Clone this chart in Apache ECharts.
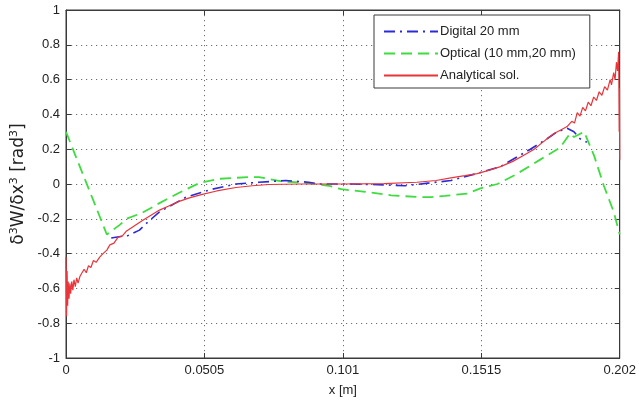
<!DOCTYPE html>
<html>
<head>
<meta charset="utf-8">
<script src="https://cdn.jsdelivr.net/npm/echarts@6/dist/echarts.min.js"></script>
<style>
html, body { margin: 0; padding: 0; background: #fff; }
#main { width: 639px; height: 402px; }
</style>
</head>
<body>
<div id="main"></div>
<script>
// tick labels
var xTickLabels = ['0', '0.0505', '0.101', '0.1515', '0.202'];
var yTickLabels = ['-1', '-0.8', '-0.6', '-0.4', '-0.2', '0', '0.2', '0.4', '0.6', '0.8', '1'];
var legendNames = ['Digital 20 mm', 'Optical (10 mm,20 mm)', 'Analytical sol.'];

// Digital 20 mm  [x, value]
var digitalData = [
	[0.0165, -0.31], [0.0207, -0.30], [0.0221, -0.30], [0.0268, -0.265], [0.0294, -0.225],
	[0.0341, -0.16], [0.0439, -0.075], [0.0533, -0.03], [0.062, 0.0], [0.0704, 0.01],
	[0.0802, 0.02], [0.0885, 0.01], [0.0921, 0.0], [0.1041, 0.0], [0.1164, -0.005],
	[0.1237, -0.01], [0.132, 0.005], [0.1404, 0.02], [0.1476, 0.05], [0.1585, 0.1],
	[0.1694, 0.2], [0.1755, 0.26], [0.1792, 0.3], [0.1828, 0.32], [0.1853, 0.3],
	[0.1875, 0.26], [0.19, 0.24]
];

// Optical (10 mm,20 mm)
var opticalData = [
	[0, 0.30], [0.0149, -0.29], [0.0196, -0.235], [0.0221, -0.2], [0.0279, -0.165],
	[0.0341, -0.11], [0.0413, -0.05], [0.0486, 0.005], [0.0559, 0.03],
	[0.0667, 0.04], [0.0704, 0.04], [0.0787, 0.015], [0.0885, 0.005], [0.0958, -0.01],
	[0.1005, -0.03], [0.1092, -0.045], [0.1186, -0.065], [0.1284, -0.075], [0.1331, -0.075],
	[0.1382, -0.068], [0.1465, -0.055], [0.1512, -0.025], [0.1574, 0.0], [0.1636, 0.05],
	[0.173, 0.14], [0.1803, 0.21], [0.1839, 0.29], [0.1853, 0.27], [0.189, 0.3],
	[0.1926, 0.165], [0.1962, -0.01], [0.1998, -0.16], [0.202, -0.29]
];

// Analytical sol.
var analyticalData = [
	[0, -0.42], [0.0002, -0.76], [0.0004, -0.5], [0.0006, -0.7], [0.0008, -0.56],
	[0.0011, -0.66], [0.0014, -0.57], [0.0017, -0.63], [0.0021, -0.56], [0.0025, -0.61],
	[0.0029, -0.55], [0.0034, -0.59], [0.0039, -0.54], [0.0044, -0.57], [0.0051, -0.53],
	[0.0058, -0.54], [0.0066, -0.49], [0.0074, -0.51], [0.0082, -0.47], [0.0091, -0.48],
	[0.01, -0.44], [0.011, -0.45], [0.0123, -0.42], [0.0135, -0.4], [0.0149, -0.38],
	[0.016, -0.35], [0.0175, -0.34], [0.019, -0.305], [0.0205, -0.3], [0.0221, -0.27],
	[0.025, -0.24], [0.0279, -0.21], [0.031, -0.18], [0.0341, -0.15], [0.0377, -0.125],
	[0.0413, -0.1], [0.045, -0.08], [0.0497, -0.06], [0.055, -0.04], [0.062, -0.02],
	[0.068, -0.01], [0.074, -0.003], [0.086, 0.0], [0.1, 0.0], [0.116, 0.002],
	[0.128, 0.01], [0.135, 0.02], [0.1404, 0.035], [0.1455, 0.048], [0.15, 0.06],
	[0.1545, 0.08], [0.1585, 0.1], [0.163, 0.13], [0.167, 0.165], [0.1708, 0.2],
	[0.1735, 0.235], [0.1755, 0.26], [0.178, 0.29], [0.1805, 0.31], [0.1828, 0.33],
	[0.1845, 0.36], [0.1855, 0.35], [0.1865, 0.41], [0.1875, 0.39], [0.1885, 0.44],
	[0.1895, 0.42], [0.1905, 0.47], [0.1915, 0.45], [0.1925, 0.5], [0.1935, 0.48],
	[0.1945, 0.53], [0.1955, 0.51], [0.1965, 0.56], [0.1975, 0.54], [0.1985, 0.6],
	[0.199, 0.57], [0.1998, 0.64], [0.2003, 0.6], [0.2008, 0.7], [0.2012, 0.65],
	[0.2016, 0.76], [0.2018, 0.3], [0.2019, 0.55], [0.202, 0.14]
];

var fontFam = '"Liberation Sans", Arial, sans-serif';
var gridColor = '#6e6e6e';
var axisColor = '#3a3a3a';

function xLabel(v) {
	var i = Math.round(v / 0.0505);
	return xTickLabels[i] !== undefined ? xTickLabels[i] : '';
}
function yLabel(v) {
	var i = Math.round((v + 1) / 0.2);
	return yTickLabels[i] !== undefined ? yTickLabels[i] : '';
}

var chart = echarts.init(document.getElementById('main'), null, { renderer: 'canvas' });

var option = {
	animation: false,
	backgroundColor: '#fff',
	textStyle: { fontFamily: fontFam },
	grid: {
		left: 66, top: 10, right: 16, bottom: 41,
		show: true, borderColor: axisColor, borderWidth: 1, backgroundColor: '#fff'
	},
	legend: {
		data: legendNames,
		orient: 'vertical',
		left: 374, top: 15,
		padding: [10, 14, 6, 9],
		itemGap: 9,
		itemWidth: 54,
		itemHeight: 10,
		backgroundColor: '#fff',
		borderColor: axisColor,
		borderWidth: 1,
		borderRadius: 0,
		itemStyle: { opacity: 0 },
		textStyle: { fontFamily: fontFam, fontSize: 13, color: '#222', padding: [0, 0, 0, -3] }
	},
	xAxis: [{
		type: 'value',
		min: 0, max: 0.202, interval: 0.0505,
		name: 'x [m]',
		nameLocation: 'middle',
		nameGap: 26,
		nameTextStyle: { fontFamily: fontFam, fontSize: 13, color: '#222' },
		axisLine: { show: true, onZero: false, lineStyle: { color: axisColor, width: 1 } },
		axisTick: { show: true, inside: true, length: 5, lineStyle: { color: axisColor } },
		axisLabel: { formatter: xLabel, fontFamily: fontFam, fontSize: 13, color: '#222', margin: 6 },
		splitLine: { show: true, lineStyle: { color: gridColor, type: [1.2, 3.8], width: 1 } }
	}, {
		type: 'value',
		position: 'top',
		min: 0, max: 0.202, interval: 0.0505,
		axisLine: { show: true, onZero: false, lineStyle: { color: axisColor, width: 1 } },
		axisTick: { show: true, inside: true, length: 5, lineStyle: { color: axisColor } },
		axisLabel: { show: false },
		splitLine: { show: false }
	}],
	yAxis: [{
		type: 'value',
		min: -1, max: 1, interval: 0.2,
		name: 'δ{sup|3}W/δx{sup|3} [rad{sup|3}]',
		nameLocation: 'middle',
		nameGap: 35,
		nameRotate: 90,
		nameTextStyle: {
			fontFamily: '"DejaVu Sans", sans-serif', fontSize: 17, color: '#222',
			rich: { sup: { fontSize: 11, verticalAlign: 'top', padding: [0, 0, 8, 0], fontFamily: '"DejaVu Sans", sans-serif', color: '#222' } }
		},
		axisLine: { show: true, onZero: false, lineStyle: { color: axisColor, width: 1 } },
		axisTick: { show: true, inside: true, length: 5, lineStyle: { color: axisColor } },
		axisLabel: { formatter: yLabel, fontFamily: fontFam, fontSize: 13, color: '#222', margin: 6 },
		splitLine: { show: true, lineStyle: { color: gridColor, type: [1.2, 3.8], width: 1 } }
	}, {
		type: 'value',
		position: 'right',
		min: -1, max: 1, interval: 0.2,
		axisLine: { show: true, onZero: false, lineStyle: { color: axisColor, width: 1 } },
		axisTick: { show: true, inside: true, length: 5, lineStyle: { color: axisColor } },
		axisLabel: { show: false },
		splitLine: { show: false }
	}],
	series: [{
		name: legendNames[0],
		type: 'line',
		data: digitalData,
		symbol: 'none',
		z: 3,
		lineStyle: { color: '#2a2ad6', width: 1.6, type: [11, 5, 2, 5] },
		itemStyle: { color: '#2a2ad6' }
	}, {
		name: legendNames[1],
		type: 'line',
		data: opticalData,
		symbol: 'none',
		z: 2,
		lineStyle: { color: '#3fdc3f', width: 1.8, type: [11, 6] },
		itemStyle: { color: '#3fdc3f' }
	}, {
		name: legendNames[2],
		type: 'line',
		data: analyticalData,
		symbol: 'none',
		z: 4,
		lineStyle: { color: '#e8353a', width: 1.2 },
		itemStyle: { color: '#e8353a' }
	}]
};

chart.setOption(option);
</script>
</body>
</html>
